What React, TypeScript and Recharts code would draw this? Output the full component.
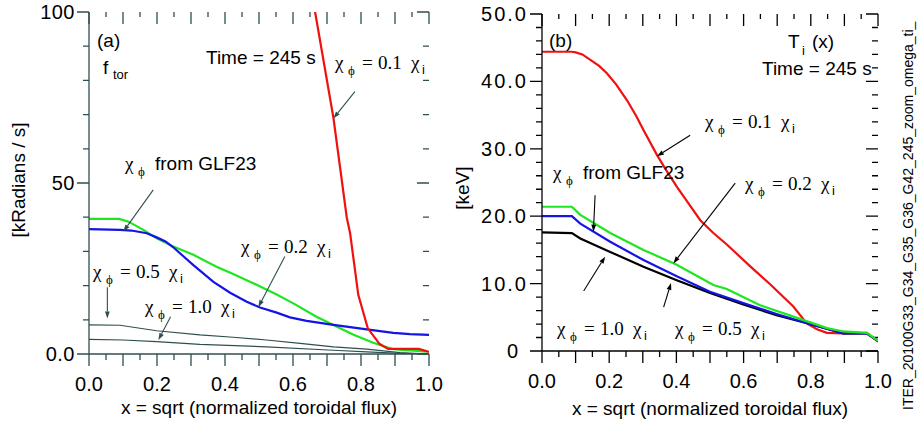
import { LineChart, Line, XAxis, YAxis, ReferenceLine } from 'recharts';

const SANS = '"Liberation Sans", Arial, Helvetica, sans-serif';
const SERIF = '"Liberation Serif", "Times New Roman", serif';

// shared x ticks (both panels)
const xTicks = [0, 0.05, 0.1, 0.15, 0.2, 0.25, 0.3, 0.35, 0.4, 0.45, 0.5, 0.55, 0.6, 0.65, 0.7, 0.75, 0.8, 0.85, 0.9, 0.95, 1];
const xLong = [0, 0.1, 0.2, 0.3, 0.4, 0.5, 0.6, 0.7, 0.8, 0.9, 1];
const xLabeled = [0, 0.2, 0.4, 0.6, 0.8, 1];

// panel (a) ticks
const aYTicks = [0, 10, 20, 30, 40, 50, 60, 70, 80, 90, 100];
const aYMajor = [0, 50, 100];
// panel (b) ticks
const bYTicks = [0, 2, 4, 6, 8, 10, 12, 14, 16, 18, 20, 22, 24, 26, 28, 30, 32, 34, 36, 38, 40, 42, 44, 46, 48, 50];
const bYMajor = [0, 10, 20, 30, 40, 50];

// panel (a): toroidal rotation [kRadians / s]
const aRedX = [0.62, 0.665, 0.719, 0.758, 0.768, 0.792, 0.82, 0.855, 0.88, 0.97, 1.0];
const aRedY = [126, 100, 69, 40, 35.3, 17.3, 7.5, 2.9, 1.5, 1.5, 0.6];
const aGreenX = [0, 0.089, 0.116, 0.16, 0.199, 0.248, 0.307, 0.375, 0.424, 0.483, 0.552, 0.601, 0.669, 0.719, 0.778, 0.836, 0.895, 0.993];
const aGreenY = [39.5, 39.5, 38.7, 36.3, 33.8, 31.4, 29.0, 25.5, 23.4, 20.7, 17.4, 14.8, 10.9, 8.5, 5.6, 3.3, 1.4, 0.7];
const aBlueX = [0, 0.091, 0.125, 0.17, 0.199, 0.225, 0.248, 0.275, 0.307, 0.366, 0.415, 0.464, 0.503, 0.552, 0.591, 0.64, 0.719, 0.817, 0.895, 0.944, 1.0];
const aBlueY = [36.5, 36.3, 36.1, 35.3, 34.1, 32.9, 31.2, 28.8, 26.0, 21.1, 17.9, 15.3, 13.6, 12.1, 10.7, 9.7, 8.5, 7.2, 6.2, 5.8, 5.6];
const aHalfX = [0, 0.091, 0.199, 0.326, 0.424, 0.522, 0.621, 0.719, 0.817, 0.915, 1.0];
const aHalfY = [8.5, 8.4, 6.8, 5.6, 4.9, 4.1, 3.1, 2.1, 1.4, 0.4, 0];
const aOneX = [0, 0.1, 0.199, 0.326, 0.522, 0.719, 0.817, 0.915, 1.0];
const aOneY = [4.3, 4.1, 3.6, 2.8, 2.1, 1.1, 0.6, 0.2, 0];

// panel (b): ion temperature [keV]
const bRedX = [0, 0.089, 0.1, 0.12, 0.144, 0.17, 0.193, 0.22, 0.253, 0.28, 0.302, 0.342, 0.37, 0.401, 0.436, 0.471, 0.51, 0.55, 0.619, 0.679, 0.748, 0.788, 0.82, 0.848, 0.897, 0.967, 1.0];
const bRedY = [44.4, 44.4, 44.3, 44.0, 43.2, 42.3, 41.2, 39.6, 37.2, 34.9, 32.8, 29.1, 26.8, 24.4, 21.9, 19.4, 17.5, 15.8, 12.6, 9.9, 6.6, 4.1, 3.2, 2.7, 2.6, 2.7, 1.4];
const bGreenX = [0, 0.089, 0.114, 0.203, 0.302, 0.401, 0.51, 0.55, 0.649, 0.748, 0.848, 0.897, 0.967, 1.0];
const bGreenY = [21.4, 21.4, 20.2, 17.5, 15.0, 12.8, 9.8, 9.2, 6.8, 5.1, 3.4, 2.9, 2.7, 1.5];
const bBlueX = [0, 0.089, 0.114, 0.203, 0.302, 0.401, 0.5, 0.599, 0.698, 0.797, 0.897, 0.967, 1.0];
const bBlueY = [20.0, 20.0, 18.9, 16.2, 13.5, 11.1, 8.8, 7.1, 5.5, 4.0, 2.6, 2.6, 1.5];
const bBlackX = [0, 0.089, 0.114, 0.203, 0.302, 0.401, 0.5, 0.599, 0.698, 0.797, 0.897, 0.967, 1.0];
const bBlackY = [17.6, 17.5, 16.7, 14.7, 12.5, 10.5, 8.6, 6.9, 5.3, 4.0, 2.6, 2.6, 1.5];

const zip = (xs: number[], ys: number[]) => xs.map((x, i) => ({ x, y: ys[i] }));

const has = (list: number[], v: number) => list.some((m) => Math.abs(m - v) < 1e-6);

// tick labels only (tick marks are drawn as reference lines below)
function makeLabel(side: string, labels: (v: number) => string | null, spacing = 0) {
  return function TickLabel(props: any) {
    const x = Number(props.x);
    const y = Number(props.y);
    const lbl = labels(Number(props.payload?.value));
    if (lbl == null) return <g />;
    if (side === 'bottom') {
      return (
        <text x={x} y={y + 37} textAnchor="middle" fill="#000" fontFamily={SANS} fontSize={20}>
          {lbl}
        </text>
      );
    }
    return (
      <text x={x - (lbl === '0' ? 22 : 14)} y={y + 7} textAnchor="end" fill="#000" fontFamily={SANS} fontSize={20} letterSpacing={spacing}>
        {lbl}
      </text>
    );
  };
}

// vertical ref line -> outward tick at the bottom, inward tick at the top
function xTickShape(color: string, long: boolean) {
  return function XTick(p: any) {
    const x = Number(p.x1);
    const top = Math.min(p.y1, p.y2);
    const bot = Math.max(p.y1, p.y2);
    const lb = long ? 12 : 6;
    const lt = long ? 12 : 5;
    return <path d={`M${x},${bot}L${x},${bot + lb}M${x},${top}L${x},${top + lt}`} stroke={color} strokeWidth={1.3} fill="none" />;
  };
}

// horizontal ref line -> outward tick on the left, inward tick on the right
function yTickShape(color: string, long: boolean) {
  return function YTick(p: any) {
    const y = Number(p.y1);
    const l = Math.min(p.x1, p.x2);
    const r = Math.max(p.x1, p.x2);
    const len = long ? 12 : 6;
    return <path d={`M${l - len},${y}L${l},${y}M${r},${y}L${r - len},${y}`} stroke={color} strokeWidth={1.3} fill="none" />;
  };
}

function arrowShape(color: string) {
  return function ArrowLine(p: any) {
    const { x1, y1, x2, y2 } = p;
    const a = Math.atan2(y2 - y1, x2 - x1);
    const L = 7;
    const W = 2.4;
    const bx = x2 - L * Math.cos(a);
    const by = y2 - L * Math.sin(a);
    const pts = `${x2},${y2} ${bx - W * Math.sin(a)},${by + W * Math.cos(a)} ${bx + W * Math.sin(a)},${by - W * Math.cos(a)}`;
    return (
      <g>
        <line x1={x1} y1={y1} x2={bx} y2={by} stroke={color} strokeWidth={1.1} />
        <polygon points={pts} fill={color} />
      </g>
    );
  };
}

// arrow segments in data units: [x1, y1, x2, y2]
const aArrows = [
  [0.782, 76.7, 0.719, 68.9],
  [0.189, 48.0, 0.101, 35.8],
  [0.576, 28.5, 0.498, 13.7],
  [0.054, 19.5, 0.054, 10.4],
  [0.24, 10.9, 0.204, 4.1],
];
const bArrows = [
  [0.441, 32.0, 0.342, 28.9],
  [0.158, 23.1, 0.153, 17.7],
  [0.575, 24.9, 0.391, 13.0],
  [0.124, 8.9, 0.188, 14.0],
  [0.362, 6.5, 0.384, 10.1],
];

const fmtX = (v: number) => (has(xLabeled, v) ? v.toFixed(1) : null);

function ChiLabel({ x, y, value }: { x: number; y: number; value: string }) {
  return (
    <text x={x} y={y} fontFamily={SERIF} fontSize={19} fill="#000">
      <tspan x={x} y={y}>χ</tspan>
      <tspan x={x + 13} y={y + 6} fontSize={13}>ϕ</tspan>
      <tspan x={x + 27} y={y}>=</tspan>
      <tspan x={x + 43} y={y}>{value}</tspan>
      <tspan x={x + 76} y={y}>χ</tspan>
      <tspan x={x + 87} y={y + 5} fontSize={13} fontFamily={SANS}>i</tspan>
    </text>
  );
}

function GlfLabel({ x, y }: { x: number; y: number }) {
  return (
    <text x={x} y={y} fontFamily={SERIF} fontSize={19} fill="#000">
      <tspan x={x} y={y}>χ</tspan>
      <tspan x={x + 13} y={y + 6} fontSize={13}>ϕ</tspan>
      <tspan x={x + 30} y={y} fontFamily={SANS}>from GLF23</tspan>
    </text>
  );
}

function Panel({ left, width, yDomain, yTicks, yMajor, yFmt, ySpacing, axisColor, margin, series, arrows, arrowColor }: any) {
  const axisLine = { stroke: axisColor, strokeWidth: 1.3 };
  return (
    <div style={{ position: 'absolute', left, top: 0 }}>
      <LineChart width={width} height={427} margin={margin}>
        <XAxis
          xAxisId={0}
          type="number"
          dataKey="x"
          domain={[0, 1]}
          allowDataOverflow
          ticks={xTicks}
          interval={0}
          height={40}
          tickSize={0}
          tickMargin={0}
          tickLine={false}
          axisLine={axisLine}
          tick={makeLabel('bottom', fmtX)}
        />
        <XAxis
          xAxisId="top"
          orientation="top"
          type="number"
          domain={[0, 1]}
          allowDataOverflow
          height={0}
          tick={false}
          tickLine={false}
          axisLine={axisLine}
        />
        <YAxis
          yAxisId={0}
          type="number"
          domain={yDomain}
          allowDataOverflow
          ticks={yTicks}
          interval={0}
          width={60}
          tickSize={0}
          tickMargin={0}
          tickLine={false}
          axisLine={axisLine}
          tick={makeLabel('left', (v) => (has(yMajor, v) ? yFmt(v) : null), ySpacing)}
        />
        <YAxis
          yAxisId="right"
          orientation="right"
          type="number"
          domain={yDomain}
          allowDataOverflow
          width={0}
          tick={false}
          tickLine={false}
          axisLine={axisLine}
        />
        {xTicks.map((v) => (
          <ReferenceLine key={'xt' + v} x={v} shape={xTickShape(axisColor, has(xLong, v))} />
        ))}
        {yTicks.map((v: number) => (
          <ReferenceLine key={'yt' + v} y={v} shape={yTickShape(axisColor, has(yMajor, v))} />
        ))}
        {series.map((s: any) => (
          <Line
            key={s.name}
            name={s.name}
            data={s.data}
            dataKey="y"
            type="linear"
            stroke={s.color}
            strokeWidth={s.w}
            dot={false}
            isAnimationActive={false}
          />
        ))}
        {arrows.map((a: number[], i: number) => (
          <ReferenceLine
            key={i}
            segment={[{ x: a[0], y: a[1] }, { x: a[2], y: a[3] }]}
            shape={arrowShape(arrowColor)}
          />
        ))}
      </LineChart>
    </div>
  );
}

export default function App() {
  const aSeries = [
    { name: 'chi 0.5', data: zip(aHalfX, aHalfY), color: '#2f4f4f', w: 1.2 },
    { name: 'chi 1.0', data: zip(aOneX, aOneY), color: '#2f4f4f', w: 1.2 },
    { name: 'green', data: zip(aGreenX, aGreenY), color: '#1ee61e', w: 2.2 },
    { name: 'blue', data: zip(aBlueX, aBlueY), color: '#1414e6', w: 2.2 },
    { name: 'red', data: zip(aRedX, aRedY), color: '#f01010', w: 2.2 },
  ];
  const bSeries = [
    { name: 'red', data: zip(bRedX, bRedY), color: '#f01010', w: 2.2 },
    { name: 'black', data: zip(bBlackX, bBlackY), color: '#000000', w: 2.2 },
    { name: 'blue', data: zip(bBlueX, bBlueY), color: '#1414e6', w: 2.2 },
    { name: 'green', data: zip(bGreenX, bGreenY), color: '#1ee61e', w: 2.2 },
  ];
  return (
    <div style={{ position: 'absolute', left: 0, top: 0, width: 918, height: 427, background: '#fff', overflow: 'hidden', fontFamily: SANS }}>
      <Panel
        left={0}
        width={460}
        yDomain={[0, 100]}
        yTicks={aYTicks}
        yMajor={aYMajor}
        yFmt={(v: number) => (v === 0 ? '0.0' : String(v))}
        ySpacing={0.5}
        axisColor="#2f4f4f"
        margin={{ top: 12, right: 31, left: 29, bottom: 33 }}
        series={aSeries}
        arrows={aArrows}
        arrowColor="#2f4f4f"
      />
      <Panel
        left={460}
        width={440}
        yDomain={[0, 50]}
        yTicks={bYTicks}
        yMajor={bYMajor}
        yFmt={(v: number) => (v === 0 ? '0' : v.toFixed(1))}
        ySpacing={2}
        axisColor="#000"
        margin={{ top: 14, right: 22, left: 22, bottom: 36 }}
        series={bSeries}
        arrows={bArrows}
        arrowColor="#000"
      />
      <svg width={918} height={427} style={{ position: 'absolute', left: 0, top: 0, pointerEvents: 'none' }}>
        {/* panel (a) */}
        <text x={97} y={47} fontFamily={SANS} fontSize={19}>(a)</text>
        <text x={103} y={74} fontFamily={SANS} fontSize={19}>f</text>
        <text x={113} y={79} fontFamily={SANS} fontSize={13}>tor</text>
        <text x={206} y={64} fontFamily={SANS} fontSize={19}>Time = 245 s</text>
        <ChiLabel x={335} y={69} value="0.1" />
        <GlfLabel x={125} y={170} />
        <ChiLabel x={241} y={253} value="0.2" />
        <ChiLabel x={93} y={278} value="0.5" />
        <ChiLabel x={145} y={313} value="1.0" />
        <text x={259} y={414} textAnchor="middle" fontFamily={SANS} fontSize={19}>x = sqrt (normalized toroidal flux)</text>
        <text transform="translate(25,180) rotate(-90)" textAnchor="middle" fontFamily={SANS} fontSize={19}>[kRadians / s]</text>
        {/* panel (b) */}
        <text x={549} y={47} fontFamily={SANS} fontSize={19}>(b)</text>
        <text x={788} y={48} fontFamily={SANS} fontSize={19}>T</text>
        <text x={802} y={55} fontFamily={SANS} fontSize={13}>i</text>
        <text x={812} y={48} fontFamily={SANS} fontSize={19}>(x)</text>
        <text x={762} y={75} fontFamily={SANS} fontSize={19}>Time = 245 s</text>
        <ChiLabel x={705} y={128} value="0.1" />
        <GlfLabel x={553} y={179} />
        <ChiLabel x={745} y={190} value="0.2" />
        <ChiLabel x={557} y={335} value="1.0" />
        <ChiLabel x={675} y={335} value="0.5" />
        <text x={710} y={415} textAnchor="middle" fontFamily={SANS} fontSize={19}>x = sqrt (normalized toroidal flux)</text>
        <text transform="translate(469,188) rotate(-90)" textAnchor="middle" fontFamily={SANS} fontSize={19}>[keV]</text>
        <text transform="translate(913,410) rotate(-90)" fontFamily={SANS} fontSize={14}>ITER_20100G33_G34_G35_G36_G42_245_zoom_omega_ti_</text>
      </svg>
    </div>
  );
}
